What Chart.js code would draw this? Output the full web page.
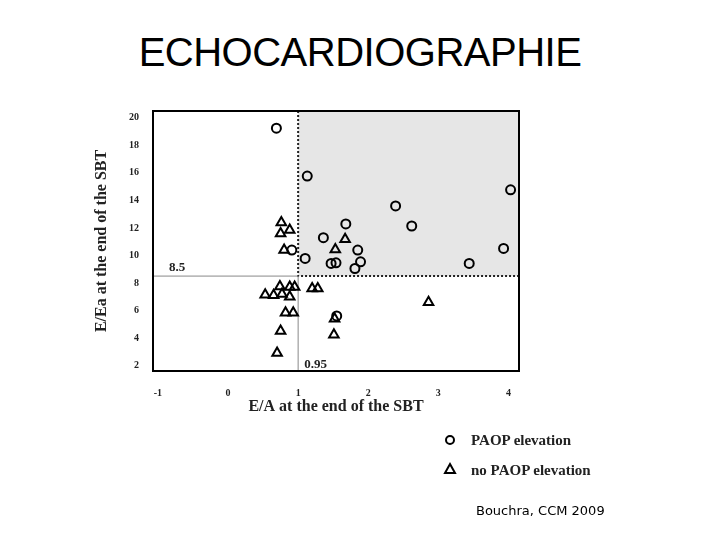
<!DOCTYPE html>
<html><head><meta charset="utf-8">
<script src="https://cdn.jsdelivr.net/npm/chart.js@4"></script>
<style>body{margin:0;background:#fff;width:720px;height:540px;position:relative;overflow:hidden}
#t{position:absolute;top:30px;left:0;width:720px;text-align:center;font:40px "Liberation Sans",Arial;color:#000;letter-spacing:-0.5px;padding-left:0}
#c{position:absolute;left:0;top:0}
.lg{position:absolute;font:bold 15px "Liberation Serif",serif;color:#222}
#cite{position:absolute;left:476px;top:503px;font:13px "DejaVu Sans",Verdana;color:#000}
</style></head><body>
<div id="t">ECHOCARDIOGRAPHIE</div>
<canvas id="c" width="720" height="540"></canvas>
<div class="lg" style="left:471px;top:432px">PAOP elevation</div>
<div class="lg" style="left:471px;top:462px">no PAOP elevation</div>
<div id="cite">Bouchra, CCM 2009</div>
<script>
const paopX=[0.69,1.13,4.03,2.39,2.62,1.68,1.36,0.91,1.10,1.85,3.93,1.47,1.54,1.89,1.81,3.44,1.55];
const paopY=[19.25,15.77,14.77,13.6,12.14,12.29,11.29,10.39,9.78,10.39,10.51,9.42,9.46,9.54,9.05,9.42,5.6];
const noX=[0.76,0.88,0.75,0.80,1.67,1.53,0.74,0.53,0.65,0.77,0.88,0.88,0.95,1.20,1.28,2.86,0.82,0.93,1.52,1.51,0.75,0.70];
const noY=[12.4,11.85,11.6,10.4,11.17,10.44,7.75,7.14,7.1,7.2,7.0,7.7,7.7,7.6,7.6,6.6,5.84,5.84,5.4,4.23,4.5,2.9];
const xTicks=[-1,0,1,2,3,4];
const yTicks=[2,4,6,8,10,12,14,16,18,20];
const thrX=1, thrY=8.5;
const pts=(xs,ys)=>xs.map((x,i)=>({x,y:ys[i]}));
const bg={id:'bg',beforeDatasetsDraw(ch){const {ctx,scales:{x,y},chartArea:a}=ch;ctx.save();
 const px=x.getPixelForValue(thrX),py=y.getPixelForValue(thrY);
 ctx.fillStyle='#e6e6e6';ctx.fillRect(px,a.top,a.right-px,py-a.top);
 ctx.strokeStyle='#222';ctx.lineWidth=2;ctx.setLineDash([2,2]);
 ctx.beginPath();ctx.moveTo(px,a.top);ctx.lineTo(px,py);ctx.lineTo(a.right,py);ctx.stroke();
 ctx.setLineDash([]);ctx.strokeStyle='#888';ctx.lineWidth=1;
 ctx.beginPath();ctx.moveTo(a.left,py);ctx.lineTo(px,py);ctx.moveTo(px,py);ctx.lineTo(px,a.bottom);ctx.stroke();
 ctx.fillStyle='#222';ctx.font='bold 13px "Liberation Serif",serif';
 ctx.fillText('8.5',a.left+16,py-5);ctx.fillText('0.95',px+6,a.bottom-3);
 ctx.strokeStyle='#000';ctx.lineWidth=2;ctx.strokeRect(a.left,a.top,a.right-a.left,a.bottom-a.top);
 ctx.restore();},
 afterDraw(ch){const ctx=ch.ctx;ctx.save();ctx.lineWidth=2;ctx.strokeStyle='#000';
 ctx.beginPath();ctx.arc(450,440,4,0,7);ctx.stroke();
 ctx.beginPath();ctx.moveTo(450,464);ctx.lineTo(455,473);ctx.lineTo(445,473);ctx.closePath();ctx.stroke();ctx.restore();}};
const tf={family:'Liberation Serif',weight:'bold',size:10};
new Chart(document.getElementById('c'),{type:'scatter',
 data:{datasets:[
  {label:'PAOP elevation',data:pts(paopX,paopY),pointStyle:'circle',radius:4.5,borderColor:'#000',borderWidth:2,backgroundColor:'rgba(0,0,0,0)'},
  {label:'no PAOP elevation',data:pts(noX,noY),pointStyle:'triangle',radius:5.5,borderColor:'#000',borderWidth:2,backgroundColor:'rgba(0,0,0,0)'}]},
 options:{responsive:false,animation:false,layout:{padding:{top:111,right:201,left:88,bottom:120}},
  plugins:{legend:{display:false},tooltip:{enabled:false}},
  scales:{
   x:{min:-1.07,max:4.15,afterBuildTicks(s){s.ticks=xTicks.map(v=>({value:v}));},afterFit(s){s.height=49;},
    grid:{display:false},border:{display:false},ticks:{font:tf,color:'#222',padding:8},
    title:{display:true,text:'E/A at the end of the SBT',font:{family:'Liberation Serif',weight:'bold',size:16},color:'#222',padding:{top:4}}},
   y:{min:1.6,max:20.5,afterBuildTicks(s){s.ticks=yTicks.map(v=>({value:v}));},afterFit(s){s.width=65;},
    grid:{display:false},border:{display:false},ticks:{font:tf,color:'#222',padding:6},
    title:{display:true,text:'E/Ea at the end of the SBT',font:{family:'Liberation Serif',weight:'bold',size:16},color:'#222',padding:{bottom:8}}}}},
 plugins:[bg]});
</script></body></html>
